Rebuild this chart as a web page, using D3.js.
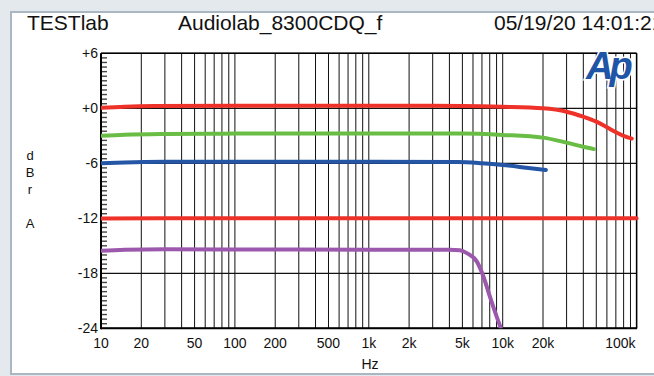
<!DOCTYPE html>
<html>
<head>
<meta charset="utf-8">
<script src="https://cdn.jsdelivr.net/npm/d3@7"></script>
<style>
  html, body { margin: 0; padding: 0; background: #e4e9ed; }
  svg { display: block; font-family: "Liberation Sans", Arial, sans-serif; }
</style>
</head>
<body>
<svg id="chart" width="654" height="376"></svg>
<script>
// header texts
const headerTexts = ["TESTlab", "Audiolab_8300CDQ_f", "05/19/20 14:01:21"];

// tick labels
const xTickValues = [10, 20, 50, 100, 200, 500, 1000, 2000, 5000, 10000, 20000, 100000];
const xTickLabels = ["10", "20", "50", "100", "200", "500", "1k", "2k", "5k", "10k", "20k", "100k"];
const yTickValues = [6, 0, -6, -12, -18, -24];
const yTickLabels = ["+6", "+0", "-6", "-12", "-18", "-24"];

// series: [frequency Hz, dBr]
const redRef = [[10, 0.05], [15, 0.18], [25, 0.25], [100, 0.28], [1000, 0.28], [5000, 0.25],
  [10000, 0.17], [20000, 0.0], [30000, -0.37], [40000, -0.92], [50000, -1.46],
  [60000, -2.07], [70000, -2.6], [80000, -3.0], [92000, -3.3]];
const green = [[10, -3.0], [15, -2.88], [30, -2.8], [100, -2.76], [1000, -2.75], [5000, -2.75],
  [10000, -2.9], [20000, -3.2], [30000, -3.75], [40000, -4.2], [48000, -4.45]];
const blue = [[10, -6.0], [15, -5.9], [30, -5.83], [100, -5.82], [1000, -5.83], [4600, -5.86],
  [7000, -6.0], [10000, -6.19], [15000, -6.48], [21000, -6.73]];
const redLow = [[10, -12.02], [100, -12.0], [1000, -12.0], [10000, -12.0], [100000, -12.0]];
const purple = [[10, -15.55], [15, -15.42], [30, -15.38], [100, -15.4], [1000, -15.42], [4000, -15.42],
  [4800, -15.48], [5400, -15.8], [6400, -16.7], [7200, -18.4], [8000, -20.5], [9000, -22.7], [9700, -24]];

const series = [
  { data: redLow, color: "#ee3129" },
  { data: purple, color: "#9b58ad" },
  { data: blue, color: "#2456a5" },
  { data: green, color: "#69bd45" },
  { data: redRef, color: "#ee3129" }
];

const svg = d3.select("#chart");

const pLeft = 101, pRight = 636.6, pTop = 53.3, pBottom = 328.3;
const x = d3.scaleLog().domain([10, 100000]).range([pLeft, pRight]);
const y = d3.scaleLinear().domain([-24, 6]).range([pBottom, pTop]);

// white panel
svg.append("rect")
  .attr("x", 11).attr("y", 12)
  .attr("width", 660).attr("height", 362)
  .attr("fill", "#fff")
  .attr("stroke", "#aab6c2")
  .attr("stroke-width", 2);

// header
const hx = [27, 178, 494];
svg.selectAll(".hdr").data(headerTexts).enter().append("text")
  .attr("class", "hdr")
  .attr("x", (d, i) => hx[i]).attr("y", 30)
  .attr("font-size", 21)
  .attr("fill", "#111")
  .text(d => d);

// vertical grid lines (every 1..9 per decade)
const vLines = [];
for (let dec = 10; dec < 100000; dec *= 10) {
  for (let m = 1; m < 10; m++) vLines.push(dec * m);
}
vLines.push(100000);
svg.append("g").selectAll("line").data(vLines).enter().append("line")
  .attr("x1", d => x(d)).attr("x2", d => x(d))
  .attr("y1", pTop).attr("y2", pBottom)
  .attr("stroke", "#111").attr("stroke-width", 1);

// horizontal grid lines
svg.append("g").selectAll("line").data(yTickValues).enter().append("line")
  .attr("x1", pLeft).attr("x2", pRight)
  .attr("y1", d => y(d)).attr("y2", d => y(d))
  .attr("stroke", "#111").attr("stroke-width", 1.2);

// minor y ticks every 0.5 dB
const minor = d3.range(-24, 6.01, 0.5).filter(v => v % 6 !== 0);
svg.append("g").selectAll("line").data(minor).enter().append("line")
  .attr("x1", pLeft).attr("x2", pLeft + 6)
  .attr("y1", d => y(d)).attr("y2", d => y(d))
  .attr("stroke", "#444").attr("stroke-width", 1.4);

// frame
svg.append("line").attr("x1", pLeft).attr("x2", pLeft).attr("y1", pTop).attr("y2", pBottom + 1)
  .attr("stroke", "#000").attr("stroke-width", 2);
svg.append("line").attr("x1", pLeft).attr("x2", pRight + 0.5).attr("y1", pBottom).attr("y2", pBottom)
  .attr("stroke", "#000").attr("stroke-width", 2);
svg.append("line").attr("x1", pLeft).attr("x2", pRight).attr("y1", pTop).attr("y2", pTop)
  .attr("stroke", "#000").attr("stroke-width", 1.5);
svg.append("line").attr("x1", pRight).attr("x2", pRight).attr("y1", pTop).attr("y2", pBottom)
  .attr("stroke", "#000").attr("stroke-width", 1.5);

// Ap logo
svg.append("text")
  .attr("x", 586).attr("y", 79)
  .attr("font-size", 38).attr("font-weight", "bold").attr("font-style", "italic")
  .attr("letter-spacing", -4)
  .attr("fill", "#1f55a6")
  .attr("stroke", "#fff").attr("stroke-width", 3).attr("paint-order", "stroke")
  .text("Ap");

// curves
svg.append("clipPath").attr("id", "clip")
  .append("rect").attr("x", pLeft).attr("y", pTop - 5).attr("width", pRight - pLeft + 5).attr("height", pBottom - pTop + 5);

const line = d3.line()
  .x(d => x(d[0]))
  .y(d => y(d[1]))
  .curve(d3.curveMonotoneX);

svg.append("g").attr("clip-path", "url(#clip)")
  .selectAll("path").data(series).enter().append("path")
  .attr("d", d => line(d.data))
  .attr("fill", "none")
  .attr("stroke", d => d.color)
  .attr("stroke-width", 4)
  .attr("stroke-linecap", "round")
  .attr("stroke-linejoin", "round");

// y tick labels
svg.append("g").selectAll("text").data(yTickValues).enter().append("text")
  .attr("x", 98).attr("y", d => y(d) + 5)
  .attr("text-anchor", "end")
  .attr("font-size", 14)
  .attr("fill", "#111")
  .text((d, i) => yTickLabels[i]);

// x tick labels
svg.append("g").selectAll("text").data(xTickValues).enter().append("text")
  .attr("x", d => d === 100000 ? x(d) - 1 : x(d))
  .attr("y", 348)
  .attr("text-anchor", d => d === 100000 ? "end" : "middle")
  .attr("font-size", 14)
  .attr("fill", "#111")
  .text((d, i) => xTickLabels[i]);

// axis titles
svg.append("text").attr("x", 370).attr("y", 369)
  .attr("text-anchor", "middle").attr("font-size", 14).attr("fill", "#111").text("Hz");

const yLetters = [["d", 160], ["B", 177], ["r", 194], ["A", 228]];
svg.append("g").selectAll("text").data(yLetters).enter().append("text")
  .attr("x", 30).attr("y", d => d[1])
  .attr("text-anchor", "middle")
  .attr("font-size", 13)
  .attr("fill", "#111")
  .text(d => d[0]);
</script>
</body>
</html>
